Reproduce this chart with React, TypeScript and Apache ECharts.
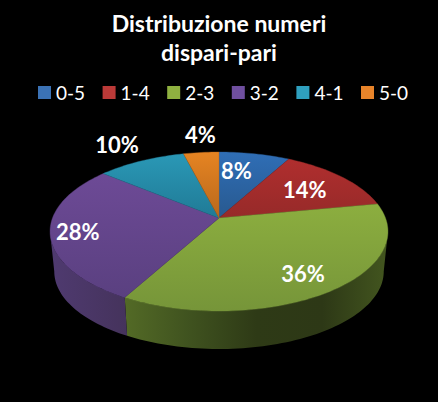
import React, { useEffect, useRef } from "react";
import * as echarts from "echarts";

const titleText = "Distribuzione numeri\ndispari-pari";
const categories = ["0-5", "1-4", "2-3", "3-2", "4-1", "5-0"];
const shares = [8, 14, 36, 28, 10, 4];

const topColors = [
  ["#2f6eb6", "#28598f"],
  ["#b02e2e", "#962a29"],
  ["#8cae3f", "#769539"],
  ["#6d4a96", "#5a4080"],
  ["#2a98b6", "#207a96"],
  ["#e68422", "#b8681c"],
];
const wallColors = [
  ["#1d3f68", "#1d3f68"],
  ["#6e1f1e", "#6e1f1e"],
  ["#536a26", "#3f521f", "#2e3a16", "#2d3816", "#43561f"],
  ["#4f3a70", "#45335c"],
  ["#145a6c", "#145a6c"],
  ["#84490f", "#84490f"],
];
const legendColors = ["#3b72b5", "#bb3a38", "#8fb140", "#6f4f9f", "#2fa0bf", "#e8842a"];
const labelNudges = [
  [-12, 5],
  [-14, 5],
  [-4, -1],
  [-7, 2],
  [-38, -27],
  [-4, -30],
];

const FONT = "Lato";
const APEX_X = 219;
const APEX_Y = 218;
const SCALE_X = 166.5;
const SCALE_Y = 77.2;
const PERSPECTIVE = 0.17;
const DEPTH = 40.3;
const DEPTH_SCALE = 0.975;
const LABEL_RADIUS = 0.8;
const RAD = Math.PI / 180;
const total = shares.reduce((a, b) => a + b, 0);

function project(theta: number, r: number, drop = 0, scale = 1): number[] {
  const u = r * Math.sin(theta * RAD);
  const v = -r * Math.cos(theta * RAD);
  const w = 1 / (1 - PERSPECTIVE * v);
  return [APEX_X + SCALE_X * u * w * scale, APEX_Y + drop + SCALE_Y * v * w * scale];
}

function arcAngles(a: number, b: number): number[] {
  const n = Math.max(2, Math.ceil((b - a) / 1.5));
  const out: number[] = [];
  for (let i = 0; i <= n; i++) out.push(a + ((b - a) * i) / n);
  return out;
}

const VISIBLE_FROM = Math.acos(-PERSPECTIVE) / RAD;
const VISIBLE_TO = 360 - VISIBLE_FROM;

function sliceRenderer(index: number) {
  return (_params: any, api: any) => {
    const value = api.value(0) as number;
    const before = shares.slice(0, index).reduce((a, b) => a + b, 0);
    const start = (before / total) * 360;
    const end = start + (value / total) * 360;
    const children: any[] = [];

    const wa = Math.max(start, VISIBLE_FROM);
    const wb = Math.min(end, VISIBLE_TO);
    if (wb > wa) {
      const angles = arcAngles(wa, wb);
      const upper = angles.map((t) => project(t, 1));
      const lower = angles.map((t) => project(t, 1, DEPTH, DEPTH_SCALE)).reverse();
      const pts = upper.concat(lower);
      const xs = pts.map((p) => p[0]);
      const colors = wallColors[index];
      children.push({
        type: "polygon",
        shape: { points: pts },
        style: {
          fill: new echarts.graphic.LinearGradient(
            Math.min(...xs),
            0,
            Math.max(...xs),
            0,
            colors.map((c, i) => ({ offset: i / (colors.length - 1), color: c })),
            true,
          ),
        },
      });
    }

    const rim = arcAngles(start, end).map((t) => project(t, 1));
    const pts = [project(0, 0)].concat(rim);
    const ys = pts.map((p) => p[1]);
    children.push({
      type: "polygon",
      shape: { points: pts },
      style: {
        fill: new echarts.graphic.LinearGradient(
          0,
          Math.min(...ys),
          0,
          Math.max(...ys),
          [
            { offset: 0, color: topColors[index][0] },
            { offset: 1, color: topColors[index][1] },
          ],
          true,
        ),
        stroke: topColors[index][1],
        lineWidth: 0.4,
      },
    });

    const anchor = project((start + end) / 2, LABEL_RADIUS);
    children.push({
      type: "text",
      x: anchor[0] + labelNudges[index][0],
      y: anchor[1] + labelNudges[index][1],
      z2: 10,
      style: {
        text: `${Math.round((value / total) * 100)}%`,
        fill: "#ffffff",
        font: `bold 22px ${FONT}`,
        textAlign: "center",
        textVerticalAlign: "middle",
      },
    });
    return { type: "group", children };
  };
}

export default function App() {
  const ref = useRef<HTMLDivElement>(null);
  useEffect(() => {
    const chart = echarts.init(ref.current!, undefined, { renderer: "svg" });
    chart.setOption({
      animation: false,
      backgroundColor: "#000000",
      title: {
        text: titleText,
        left: "center",
        top: 3,
        textStyle: { color: "#ffffff", fontFamily: FONT, fontWeight: "bold", fontSize: 23, lineHeight: 29 },
      },
      legend: {
        left: 33,
        top: 78,
        icon: "rect",
        itemWidth: 13,
        itemHeight: 13,
        itemGap: 17.5,
        selectedMode: false,
        textStyle: { color: "#ffffff", fontFamily: FONT, fontSize: 19, padding: [0, 0, 0, 0] },
        data: categories.map((name, i) => ({ name, itemStyle: { color: legendColors[i] } })),
      },
      series: categories.map((name, i) => ({
        type: "custom",
        name,
        coordinateSystem: "none",
        itemStyle: { color: legendColors[i] },
        renderItem: sliceRenderer(i),
        data: [[shares[i]]],
      })),
    });
    return () => chart.dispose();
  }, []);
  return <div ref={ref} style={{ position: "fixed", left: 0, top: 0, width: 438, height: 402, background: "#000" }} />;
}
